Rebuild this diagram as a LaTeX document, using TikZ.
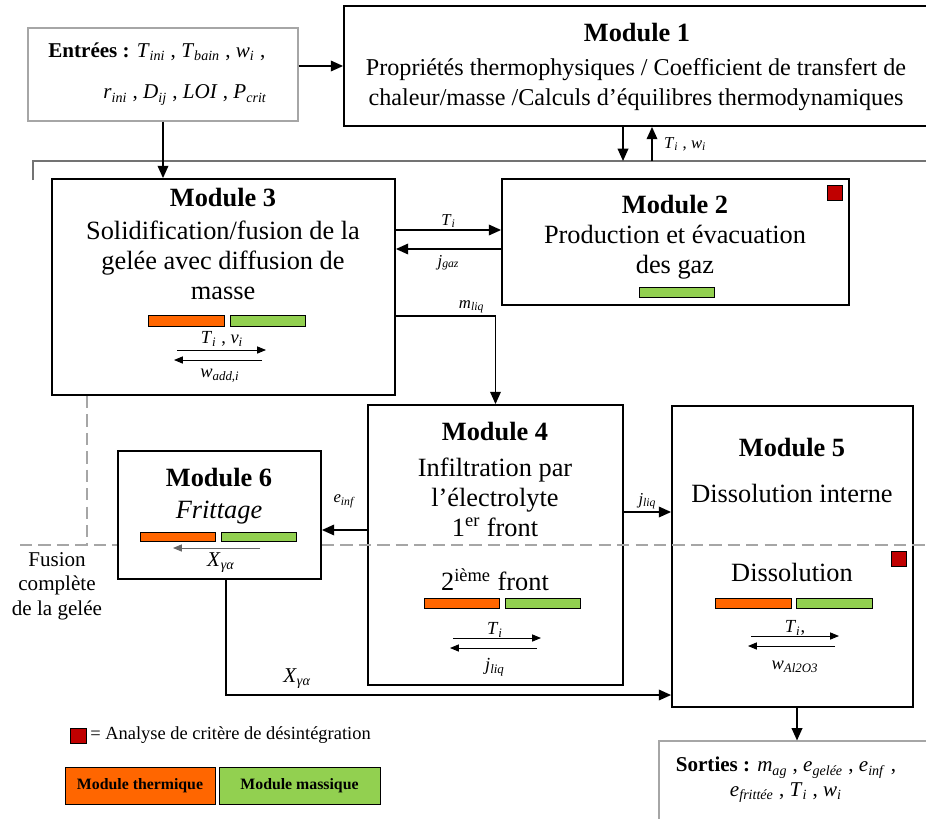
\documentclass[tikz,border=0pt]{standalone}
\usepackage{fontspec}
\setmainfont{Liberation Serif}
\usepackage{tikz}
\usetikzlibrary{arrows.meta,positioning,fit,calc}
\definecolor{thermo}{HTML}{FF6600}
\definecolor{massique}{HTML}{92D050}
\definecolor{critred}{HTML}{C00000}
\newcommand{\vsub}[2]{\textit{#1}\textsubscript{\textit{#2}}}

\begin{document}
\begin{tikzpicture}[x=0.02cm,y=-0.02cm,
  box/.style={draw,line width=1pt,inner sep=0pt},
  gbox/.style={draw=black!35,line width=0.6pt,inner sep=0pt},
  ttl/.style={font=\fontsize{15}{17}\selectfont\bfseries,inner sep=0pt},
  txt/.style={font=\fontsize{15}{17}\selectfont,align=center,inner sep=0pt},
  lbl/.style={font=\fontsize{9.5}{10}\selectfont,inner sep=1pt},
  sml/.style={font=\fontsize{10.5}{12}\selectfont,inner sep=0pt},
  arr/.style={line width=1pt,-{Triangle[length=7pt,width=6pt]}},
  fine/.style={line width=0.5pt,-{Triangle[length=5pt,width=4pt]}},
  tbar/.style={draw,line width=0.4pt,fill=thermo,inner sep=0pt},
  mbar/.style={draw,line width=0.4pt,fill=massique,inner sep=0pt},
  critbox/.style={draw,line width=0.5pt,fill=critred,inner sep=0pt},
  bus/.style={black!55,line width=0.9pt},
  sep/.style={black!35,line width=0.9pt,dash pattern=on 7pt off 3.5pt}]
  \useasboundingbox (0,0) rectangle (926,818);

  % entrees
  \node[gbox, fit={(28,28) (298,121)}] (in) {};
  \node[font=\fontsize{12}{14}\selectfont, anchor=west, inner sep=0pt] (in1) at (48,52)
    {\textbf{Entrées :} \vsub{T}{ini} , \vsub{T}{bain} , \vsub{w}{i} ,};
  \node[font=\fontsize{12}{14}\selectfont, anchor=west, inner sep=0pt] (in2) at (103,95)
    {\vsub{r}{ini} , \vsub{D}{ij} , \textit{LOI} , \vsub{P}{crit}};

  % module 1
  \node[box, fit={(344,6) (935,126)}] (m1) {};
  \node[ttl] (m1t) at (637,33) {Module 1};
  \node[txt, font=\fontsize{13.75}{17}\selectfont] (m1x) at (636,85) {Propriétés thermophysiques / Coefficient de transfert de\\
    chaleur/masse /Calculs d’équilibres thermodynamiques};
  \draw[arr] (in.east |- m1.west) -- (m1.west);

  % liaison vers module 1
  \coordinate (busL) at (33,180);
  \coordinate (busR) at (935,161);
  \draw[bus] (busL) |- (busR);
  \coordinate (d1) at (623,161);
  \coordinate (u1) at (652,161);
  \draw[arr] (m1.south -| d1) -- (d1);
  \draw[arr] (u1) -- (m1.south -| u1);
  \node[lbl, anchor=west] (twl) at (662,144) {\vsub{T}{i} , \vsub{w}{i}};

  % module 3
  \node[box, fit={(52,179) (395,395)}] (m3) {};
  \node[ttl] (m3t) at (223,198) {Module 3};
  \node[txt] (m3x) at (223,260) {Solidification/fusion de la\\gelée avec diffusion de\\masse};
  \node[tbar, fit={(148,315) (224,326)}] (m3a) {};
  \node[mbar, fit={(230,315) (305,326)}] (m3b) {};
  \node[sml] (m3l1) at (222,339) {\vsub{T}{i} , \vsub{v}{i}};
  \node[sml] (m3l2) at (220,376) {\vsub{w}{add,i}};
  \draw[fine] (177,350) -- (266,350);
  \draw[fine] (262,360) -- (174,360);
  \draw[arr] (in.south) -- (in.south |- m3.north);

  % module 2
  \node[box, fit={(502,179) (849,305)}] (m2) {};
  \node[ttl] (m2t) at (675,205) {Module 2};
  \node[txt] (m2x) at (675,252) {Production et évacuation\\des gaz};
  \node[mbar, fit={(639,287) (714,297)}] (m2b) {};
  \node[critbox, fit={(827,185) (842,200)}] (m2c) {};
  \draw[arr] (m3.east |- 0,230) -- node[lbl, above] (lt) {\vsub{T}{i}} (m2.west |- 0,230);
  \draw[arr] (m2.west |- 0,249) -- node[lbl, below=2pt] (lj) {\vsub{j}{gaz}} (m3.east |- 0,249);

  % module 4
  \node[box, fit={(368,405) (623,685)}] (m4) {};
  \node[ttl] (m4t) at (495,432) {Module 4};
  \node[txt] (m4x) at (495,497) {Infiltration par\\l’électrolyte\\1\textsuperscript{er} front};
  \node[txt] (m4y) at (495,580) {2\textsuperscript{ième} front};
  \node[tbar, fit={(424,598) (499,608)}] (m4a) {};
  \node[mbar, fit={(505,598) (580,608)}] (m4b) {};
  \node[sml] (m4l1) at (495,630) {\vsub{T}{i}};
  \node[sml] (m4l2) at (495,667) {\vsub{j}{liq}};
  \draw[fine] (453,638) -- (541,638);
  \draw[fine] (537,648) -- (450,648);
  \draw[arr] (m3.east |- 0,316) -| node[lbl, pos=0.38, above] (lm) {\vsub{m}{liq}} (m4.north);

  % module 5
  \node[box, fit={(672,406) (913,707)}] (m5) {};
  \node[ttl] (m5t) at (792,448) {Module 5};
  \node[txt] (m5x) at (792,493) {Dissolution interne};
  \node[txt] (m5y) at (792,572) {Dissolution};
  \node[tbar, fit={(715,598) (791,608)}] (m5a) {};
  \node[mbar, fit={(796,598) (872,608)}] (m5b) {};
  \node[critbox, fit={(891,551) (906,566)}] (m5c) {};
  \node[sml] (m5l1) at (795,628) {\vsub{T}{i},};
  \node[sml] (m5l2) at (795,667) {\vsub{w}{Al2O3}};
  \draw[fine] (751,636) -- (839,636);
  \draw[fine] (835,646) -- (748,646);
  \draw[arr] (m4.east |- 0,512) -- node[lbl, above] (ljl) {\vsub{j}{liq}} (m5.west |- 0,512);

  % module 6
  \node[box, fill=white, fit={(118,451) (321,579)}] (m6) {};
  \node[ttl] (m6t) at (219,478) {Module 6};
  \node[txt, font=\fontsize{15}{17}\selectfont\itshape] (m6x) at (219,513) {Frittage};
  \node[tbar, fit={(140,532) (215,541)}] (m6a) {};
  \node[mbar, fit={(221,532) (296,541)}] (m6b) {};
  \node[font=\fontsize{12}{14}\selectfont, inner sep=0pt] (m6l) at (221,563) {\vsub{X}{γα}};
  \draw[fine, black!60] (260,548) -- (173,548);
  \draw[arr] (m4.west |- 0,530) -- node[lbl, above=11pt] (le) {\vsub{e}{inf}} (m6.east |- 0,530);
  \draw[arr] (m6.south -| 226,0) |- node[font=\fontsize{12}{14}\selectfont, pos=0.58, above] (lx) {\vsub{X}{γα}} (m5.west |- 0,695);

  % fusion complete
  \draw[sep] (20,545) -- (m6.west |- 0,545);
  \draw[sep] (m6.east |- 0,545) -- (935,545);
  \draw[sep] (m3.south -| 87,0) -- (87,545);
  \node[font=\fontsize{12}{14}\selectfont, align=center, inner sep=0pt] (fus) at (57,586) {Fusion\\complète\\de la gelée};

  % sorties
  \node[gbox, fit={(659,741) (935,830)}] (out) {};
  \node[font=\fontsize{12}{14}\selectfont, align=center, inner sep=0pt] (outx) at (786,780)
    {\textbf{Sorties :} \vsub{m}{ag} , \vsub{e}{gelée} , \vsub{e}{inf} ,\\
     \vsub{e}{frittée} , \vsub{T}{i} , \vsub{w}{i}};
  \draw[arr] (m5.south -| 797,0) -- (out.north -| 797,0);

  % legende
  \node[critbox, fit={(70,728) (86,743)}] (lc) {};
  \node[font=\fontsize{10.5}{12}\selectfont, anchor=west, inner sep=0pt] (lct) at (90,735) {= Analyse de critère de désintégration};
  \node[tbar, fit={(65,767) (215,804)}] (lth) {};
  \node[mbar, fit={(219,767) (380,804)}] (lma) {};
  \node[font=\fontsize{9}{10}\selectfont\bfseries] (ltht) at (lth) {Module thermique};
  \node[font=\fontsize{9}{10}\selectfont\bfseries] (lmat) at (lma) {Module massique};
\end{tikzpicture}
\end{document}
